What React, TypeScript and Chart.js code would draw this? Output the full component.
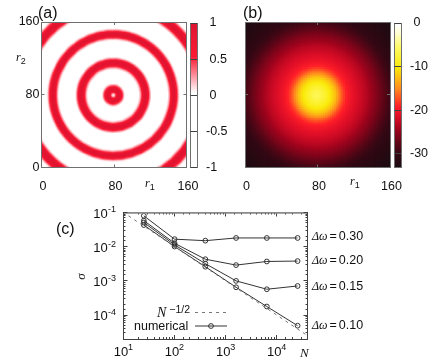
import React, { useEffect, useRef } from "react";
import Chart from "chart.js/auto";

// ---- panel (a): radial profile (radius step 2) ----
const ringValues = [
  0.02, 0.3, 0.78, 0.95, 0.85, 0.5, 0.15, -0.05, -0.3, -0.4, -0.45, -0.45, -0.4, -0.3, 0.05,
  0.25, 0.65, 0.9, 0.95, 0.8, 0.35, 0.05, -0.2, -0.4, -0.45, -0.45, -0.4, -0.3, -0.15, -0.05,
  0.05, 0.3, 0.75, 0.95, 0.95, 0.6, 0.2, -0.02, -0.2, -0.4, -0.45, -0.45, -0.4, -0.3, -0.15, -0.05,
  0.05, 0.3, 0.7, 0.95, 0.95, 0.85, 0.5, 0.15, -0.02, -0.2, -0.3, -0.3,
];
const ringStep = 2;

// ---- panel (b): radial profile (radius step 4) ----
const spotValues = [
  -6, -6.8, -7.8, -9, -10.5, -12, -14.5, -17, -18.8, -19.8, -20.6, -21.2, -21.9, -22.6, -23.4, -24.4,
  -25.2, -26, -27, -28, -29, -29.7, -30.3, -30.8, -31.3, -31.8, -32.2, -32.6, -33, -33.2,
];
const spotStep = 4;

// ---- colour maps ----
const mapAStops = [-1, 0.05, 0.55, 1];
const mapAColors = [[255, 255, 255], [255, 255, 255], [250, 25, 50], [222, 20, 50]];
const mapBStops = [-33.2, -30, -27, -24, -21, -19, -15, -10, -5, -2, 0];
const mapBColors = [
  [28, 12, 18], [50, 8, 20], [100, 6, 24], [165, 4, 30], [225, 15, 40], [255, 30, 40],
  [255, 135, 30], [250, 235, 10], [255, 250, 110], [255, 255, 215], [255, 255, 255],
];

// ---- panel (c) ----
const sizes = [25, 100, 400, 1600, 6400, 25600];
const sigma30 = [0.08, 0.0166, 0.015, 0.018, 0.018, 0.018];
const sigma20 = [0.058, 0.0126, 0.0043, 0.0029, 0.0037, 0.0038];
const sigma15 = [0.051, 0.0113, 0.0032, 0.001, 0.00057, 0.00071];
const sigma10 = [0.043, 0.0101, 0.0026, 0.00065, 0.000178, 0.000049];
const guideX = [12.5, 40000];
const guideY = [0.08, 0.000025];
const deltaLabels = ["0.30", "0.20", "0.15", "0.10"];
const deltaY = [230, 254, 279.5, 319];

const W = 436;
const H = 364;
const SANS = "'Liberation Sans', Arial, sans-serif";
const SERIF = "'Liberation Serif', 'Times New Roman', serif";
const FRAME = "#6f6f6f";
const DARK = "#404040";

function colorOf(v: number, stops: number[], colors: number[][]) {
  if (v <= stops[0]) return `rgb(${colors[0].join(",")})`;
  for (let i = 1; i < stops.length; i++) {
    if (v <= stops[i]) {
      const t = (v - stops[i - 1]) / (stops[i] - stops[i - 1]);
      const c = colors[i - 1].map((a, k) => Math.round(a + (colors[i][k] - a) * t));
      return `rgb(${c.join(",")})`;
    }
  }
  return `rgb(${colors[colors.length - 1].join(",")})`;
}

function radialCells(profile: number[], profileStep: number, cellStep: number, stops: number[], colors: number[][]) {
  const data: { x: number; y: number }[] = [];
  const bg: string[] = [];
  for (let x = 0; x <= 160; x += cellStep) {
    for (let y = 0; y <= 160; y += cellStep) {
      const r = Math.hypot(x - 80, y - 80) / profileStep;
      const i0 = Math.min(profile.length - 1, Math.floor(r));
      const i1 = Math.min(profile.length - 1, i0 + 1);
      const f = Math.min(1, r - i0);
      data.push({ x, y });
      bg.push(colorOf(profile[i0] * (1 - f) + profile[i1] * f, stops, colors));
    }
  }
  return { data, bg };
}

function barCells(min: number, max: number, stops: number[], colors: number[][]) {
  const data: { x: number; y: number }[] = [];
  const bg: string[] = [];
  const rows = 73;
  for (let j = 0; j < rows; j++) {
    const v = min + ((max - min) * j) / (rows - 1);
    for (let c = 0; c < 3; c++) {
      data.push({ x: c / 2, y: v });
      bg.push(colorOf(v, stops, colors));
    }
  }
  return { data, bg };
}

function frameAxis(position: string, size: number, extra: any = {}) {
  const axis = position === "left" || position === "right" ? "y" : "x";
  return {
    type: "linear",
    axis,
    position,
    afterFit: (s: any) => {
      if (axis === "y") s.width = size;
      else s.height = size;
    },
    ticks: { display: false },
    grid: {
      z: 1,
      drawOnChartArea: false,
      drawTicks: true,
      tickLength: -3,
      tickColor: FRAME,
      tickWidth: 1,
    },
    border: { display: true, color: FRAME, width: 1, z: 1 },
    ...extra,
  };
}

const baseOptions = {
  animation: false,
  responsive: false,
  events: [],
  plugins: { legend: { display: false }, tooltip: { enabled: false } },
};

const BOTTOM_H = 30;
const LEFT_W = 40;
const RIGHT_W = 33;

function heatChart(
  canvas: HTMLCanvasElement,
  box: number[],
  cells: { data: any[]; bg: string[] },
  side: number,
  showY: boolean
) {
  const range = { min: 0, max: 160 };
  const labelled = (pad: number, show: boolean, offset: number) => ({
    display: show,
    stepSize: 80,
    padding: pad,
    labelOffset: offset,
    maxRotation: 0,
    font: { family: SANS, size: 12.5 },
    color: "#111",
  });
  return new Chart(canvas, {
    type: "scatter",
    data: {
      datasets: [
        {
          data: cells.data,
          backgroundColor: cells.bg,
          pointStyle: "rect",
          pointRadius: side / Math.SQRT2,
          pointBorderWidth: 0,
          showLine: false,
        } as any,
      ],
    },
    options: {
      ...baseOptions,
      layout: {
        padding: { left: box[0] - LEFT_W, top: box[1], right: W - box[2], bottom: H - box[3] - BOTTOM_H },
      },
      scales: {
        x: frameAxis("bottom", BOTTOM_H, { ...range, ticks: labelled(15, true, 1.5) }),
        x2: frameAxis("top", 0, { ...range, ticks: { display: false, stepSize: 80 } }),
        y: frameAxis("left", LEFT_W, { ...range, ticks: labelled(5, showY, 0) }),
        y2: frameAxis("right", 0, { ...range, ticks: { display: false, stepSize: 80 } }),
      },
    } as any,
  });
}

function barChart(
  canvas: HTMLCanvasElement,
  box: number[],
  cells: { data: any[]; bg: string[] },
  min: number,
  max: number,
  step: number,
  side: number
) {
  const plain = { grid: { drawOnChartArea: false, drawTicks: false }, border: { display: true, color: FRAME, z: 1 } };
  return new Chart(canvas, {
    type: "scatter",
    data: {
      datasets: [
        {
          data: cells.data,
          backgroundColor: cells.bg,
          pointStyle: "rect",
          pointRadius: side / Math.SQRT2,
          pointBorderWidth: 0,
          showLine: false,
        } as any,
      ],
    },
    options: {
      ...baseOptions,
      layout: {
        padding: { left: box[0], top: box[1], right: W - box[2] - RIGHT_W, bottom: H - box[3] },
      },
      scales: {
        x: frameAxis("bottom", 0, { min: 0, max: 1, ...plain }),
        x2: frameAxis("top", 0, { min: 0, max: 1, ...plain }),
        y: frameAxis("left", 0, { min, max, ...plain }),
        y2: frameAxis("right", RIGHT_W, {
          min,
          max,
          grid: { z: 1, drawOnChartArea: false, drawTicks: true, tickLength: -7, tickColor: DARK, tickWidth: 1 },
          ticks: {
            display: true,
            stepSize: step,
            includeBounds: false,
            padding: 15.5,
            font: { family: SANS, size: 12.5 },
            color: "#111",
            callback: (v: number) => (v < 0 ? String(v) : " " + v),
          },
        }),
      },
    } as any,
  });
}

function isPower(v: number) {
  const l = Math.log10(v);
  return Math.abs(l - Math.round(l)) < 1e-6;
}

function logBase(position: string, min: number, max: number) {
  const isY = position === "left" || position === "right";
  return {
    type: "logarithmic",
    axis: isY ? "y" : "x",
    position,
    min,
    max,
    afterFit: (s: any) => {
      if (isY) s.width = 0;
      else s.height = 0;
    },
  };
}

function tickAxis(position: string, min: number, max: number, major: boolean) {
  return {
    ...logBase(position, min, max),
    afterBuildTicks: (s: any) => {
      s.ticks = s.ticks.filter((t: any) => (major ? isPower(t.value) : !isPower(t.value)));
    },
    ticks: { display: false, autoSkip: false },
    grid: {
      z: 1,
      drawOnChartArea: false,
      drawTicks: true,
      tickLength: major ? -4 : -2,
      tickColor: DARK,
      tickWidth: 1,
    },
    border: {
      display: true,
      color: position === "top" ? "#8a8a8a" : DARK,
      width: position === "top" ? 1.5 : 1,
      z: 1,
    },
  };
}

// tick labels are two library axes: the base "10" and the raised exponent
function labelAxis(position: string, min: number, max: number, exponent: boolean, padding: number, offset: number) {
  return {
    ...logBase(position, min, max),
    afterBuildTicks: (s: any) => {
      s.ticks = s.ticks.filter((t: any) => isPower(t.value));
    },
    ticks: {
      display: true,
      autoSkip: false,
      maxRotation: 0,
      mirror: true,
      padding,
      labelOffset: offset,
      font: { family: SANS, size: exponent ? 9 : 13 },
      color: "#111",
      callback: (v: number) => (exponent ? String(Math.round(Math.log10(v))) : "10"),
    },
    grid: { display: false, drawOnChartArea: false, drawTicks: false },
    border: { display: false },
  };
}

function sigmaChart(canvas: HTMLCanvasElement) {
  const xr = [10, 40000];
  const yr = [0.00002, 0.1];
  const series = [sigma30, sigma20, sigma15, sigma10].map((vals) => ({
    data: sizes.map((n, i) => ({ x: n, y: vals[i] })),
    borderColor: "#333",
    borderWidth: 1,
    pointRadius: 2.4,
    pointBorderWidth: 1,
    pointBorderColor: "#333",
    pointBackgroundColor: "rgba(0,0,0,0)",
    showLine: true,
    tension: 0,
  }));
  const guide = {
    data: guideX.map((n, i) => ({ x: n, y: guideY[i] })),
    borderColor: "#777",
    borderWidth: 1,
    borderDash: [3, 4],
    pointRadius: 0,
    showLine: true,
  };
  return new Chart(canvas, {
    type: "scatter",
    data: { datasets: [guide, ...series] as any },
    options: {
      ...baseOptions,
      layout: { padding: { left: 123.5, top: 212.5, right: W - 307.5, bottom: H - 339 } },
      scales: {
        x: tickAxis("bottom", xr[0], xr[1], true),
        xMinor: tickAxis("bottom", xr[0], xr[1], false),
        xTop: tickAxis("top", xr[0], xr[1], true),
        xTopMinor: tickAxis("top", xr[0], xr[1], false),
        xBase: labelAxis("bottom", xr[0], xr[1], false, -21.3, -2.5),
        xExp: labelAxis("bottom", xr[0], xr[1], true, -14.4, 7),
        y: tickAxis("left", yr[0], yr[1], true),
        yMinor: tickAxis("left", yr[0], yr[1], false),
        yRight: tickAxis("right", yr[0], yr[1], true),
        yRightMinor: tickAxis("right", yr[0], yr[1], false),
        yBase: labelAxis("left", yr[0], yr[1], false, -30.2, 1.5),
        yExp: labelAxis("left", yr[0], yr[1], true, -15.5, -2.5),
      },
    } as any,
  });
}

function Txt(props: { x: number; y: number; size?: number; serif?: boolean; italic?: boolean; rotate?: boolean; children: any }) {
  const { x, y, size = 12, serif, italic, rotate, children } = props;
  return (
    <div
      style={{
        position: "absolute",
        left: x,
        top: y,
        fontFamily: serif ? SERIF : SANS,
        fontSize: size,
        fontStyle: italic ? "italic" : "normal",
        lineHeight: 1,
        whiteSpace: "nowrap",
        color: "#111",
        transform: rotate ? "rotate(-90deg)" : undefined,
      }}
    >
      {children}
    </div>
  );
}

function RLabel(props: { x: number; y: number; sub: string }) {
  return (
    <Txt x={props.x} y={props.y} size={12} serif italic>
      r
      <span style={{ fontStyle: "normal", fontFamily: SANS, fontSize: 9, position: "relative", top: 3 }}>{props.sub}</span>
    </Txt>
  );
}

export default function App() {
  const aRef = useRef<HTMLCanvasElement>(null);
  const aBarRef = useRef<HTMLCanvasElement>(null);
  const bRef = useRef<HTMLCanvasElement>(null);
  const bBarRef = useRef<HTMLCanvasElement>(null);
  const cRef = useRef<HTMLCanvasElement>(null);

  useEffect(() => {
    const charts = [
      heatChart(aRef.current!, [41.5, 22, 186.5, 167.5], radialCells(ringValues, ringStep, 1, mapAStops, mapAColors), 2, true),
      barChart(aBarRef.current!, [190.5, 22, 197.5, 167.5], barCells(-1, 1, mapAStops, mapAColors), -1, 1, 0.5, 4),
      heatChart(bRef.current!, [245, 22, 390, 167.5], radialCells(spotValues, spotStep, 2, mapBStops, mapBColors), 2.9, false),
      barChart(bBarRef.current!, [394.5, 22, 401.5, 167.5], barCells(-33.2, 0, mapBStops, mapBColors), -33.2, 0, 10, 4),
      sigmaChart(cRef.current!),
    ];
    return () => charts.forEach((c) => c.destroy());
  }, []);

  const layer: React.CSSProperties = { position: "absolute", left: 0, top: 0, width: W, height: H };
  return (
    <div style={{ position: "absolute", left: 0, top: 0, width: W, height: H, background: "#fff", overflow: "hidden" }}>
      {[aRef, aBarRef, bRef, bBarRef, cRef].map((r, i) => (
        <canvas key={i} ref={r} width={W} height={H} style={layer} />
      ))}
      <Txt x={38} y={5} size={16}>(a)</Txt>
      <Txt x={243} y={5} size={16}>(b)</Txt>
      <Txt x={56} y={221} size={16}>(c)</Txt>
      <RLabel x={16} y={51} sub="2" />
      <RLabel x={145} y={177} sub="1" />
      <RLabel x={350} y={175} sub="1" />
      <Txt x={77} y={270} size={13} serif italic rotate>σ</Txt>
      <Txt x={300} y={346} size={13} serif italic>N</Txt>
      {deltaLabels.map((d, i) => (
        <Txt key={d} x={312} y={deltaY[i]} size={12.5}>
          <span style={{ fontFamily: SERIF, fontStyle: "italic", fontSize: 12 }}>Δω</span>
          <span style={{ margin: "0 2px" }}>=</span>
          {d}
        </Txt>
      ))}
      <Txt x={157} y={306} size={14} serif italic>
        N
        <span style={{ position: "relative", top: -4, left: 3, fontFamily: SANS, fontStyle: "normal", fontSize: 10.5 }}>−1/2</span>
      </Txt>
      <Txt x={134} y={320} size={12.5}>numerical</Txt>
      <svg width={W} height={H} style={{ ...layer, pointerEvents: "none" }}>
        <line x1={195} y1={312.5} x2={227} y2={312.5} stroke="#777" strokeWidth={1} strokeDasharray="3 4" />
        <line x1={195} y1={326} x2={227} y2={326} stroke="#333" strokeWidth={1} />
        <circle cx={211} cy={326} r={2.4} fill="none" stroke="#333" strokeWidth={1} />
      </svg>
    </div>
  );
}
